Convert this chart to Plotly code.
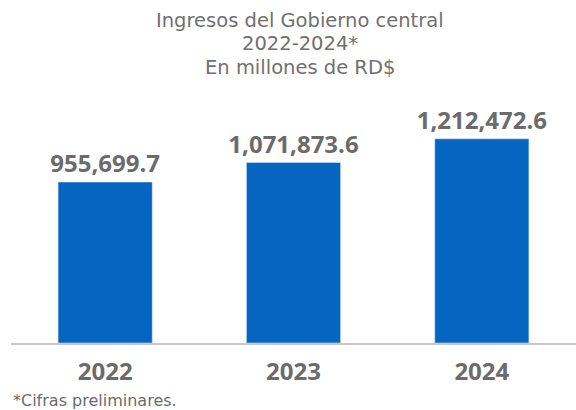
import plotly.graph_objects as go

years = ["2022", "2023", "2024"]
ingresos = [955699.7, 1071873.6, 1212472.6]
labels = ["955,699.7", "1,071,873.6", "1,212,472.6"]
title_lines = ["Ingresos del Gobierno central", "2022-2024*", "En millones de RD$"]
footnote = "*Cifras preliminares."

TOP, BOTTOM, LEFT = 100, 343, 11
H = BOTTOM - TOP
W = 576 - LEFT

def py(p):
    return (BOTTOM - p) / H

def px(p):
    return (p - LEFT) / W

fig = go.Figure(go.Bar(
    x=years, y=ingresos, text=labels, textposition="outside",
    marker_color="#0565C0", width=0.5, cliponaxis=False, constraintext="none",
    textfont=dict(family="Open Sans", size=24, color="#6b6b6b", weight="bold"),
))

fig.update_layout(
    width=576, height=410,
    margin=dict(l=LEFT, r=0, t=TOP, b=410 - BOTTOM, autoexpand=False),
    paper_bgcolor="white", plot_bgcolor="white",
    showlegend=False,
    xaxis=dict(showline=True, linecolor="#c8c8c8", linewidth=2, showgrid=False,
               tickfont=dict(family="Open Sans", size=24, color="#6b6b6b", weight="bold"),
               ticklabelstandoff=6),
    yaxis=dict(visible=False, range=[0, 1443000]),
)
for line, yc in zip(title_lines, [20.5, 44, 67.5]):
    fig.add_annotation(text=line, xref="paper", yref="paper",
                       x=px(300), y=py(yc), xanchor="center", yanchor="middle",
                       showarrow=False,
                       font=dict(family="DejaVu Sans", size=19.5, color="#707070"))
fig.add_annotation(text=footnote, xref="paper", yref="paper",
                   x=px(11), y=py(400), xanchor="left", yanchor="middle",
                   showarrow=False,
                   font=dict(family="DejaVu Sans", size=16, color="#6b6b6b"))
fig.write_html("out.html", config={"displayModeBar": False},
               post_script="document.body.style.margin='0';")
